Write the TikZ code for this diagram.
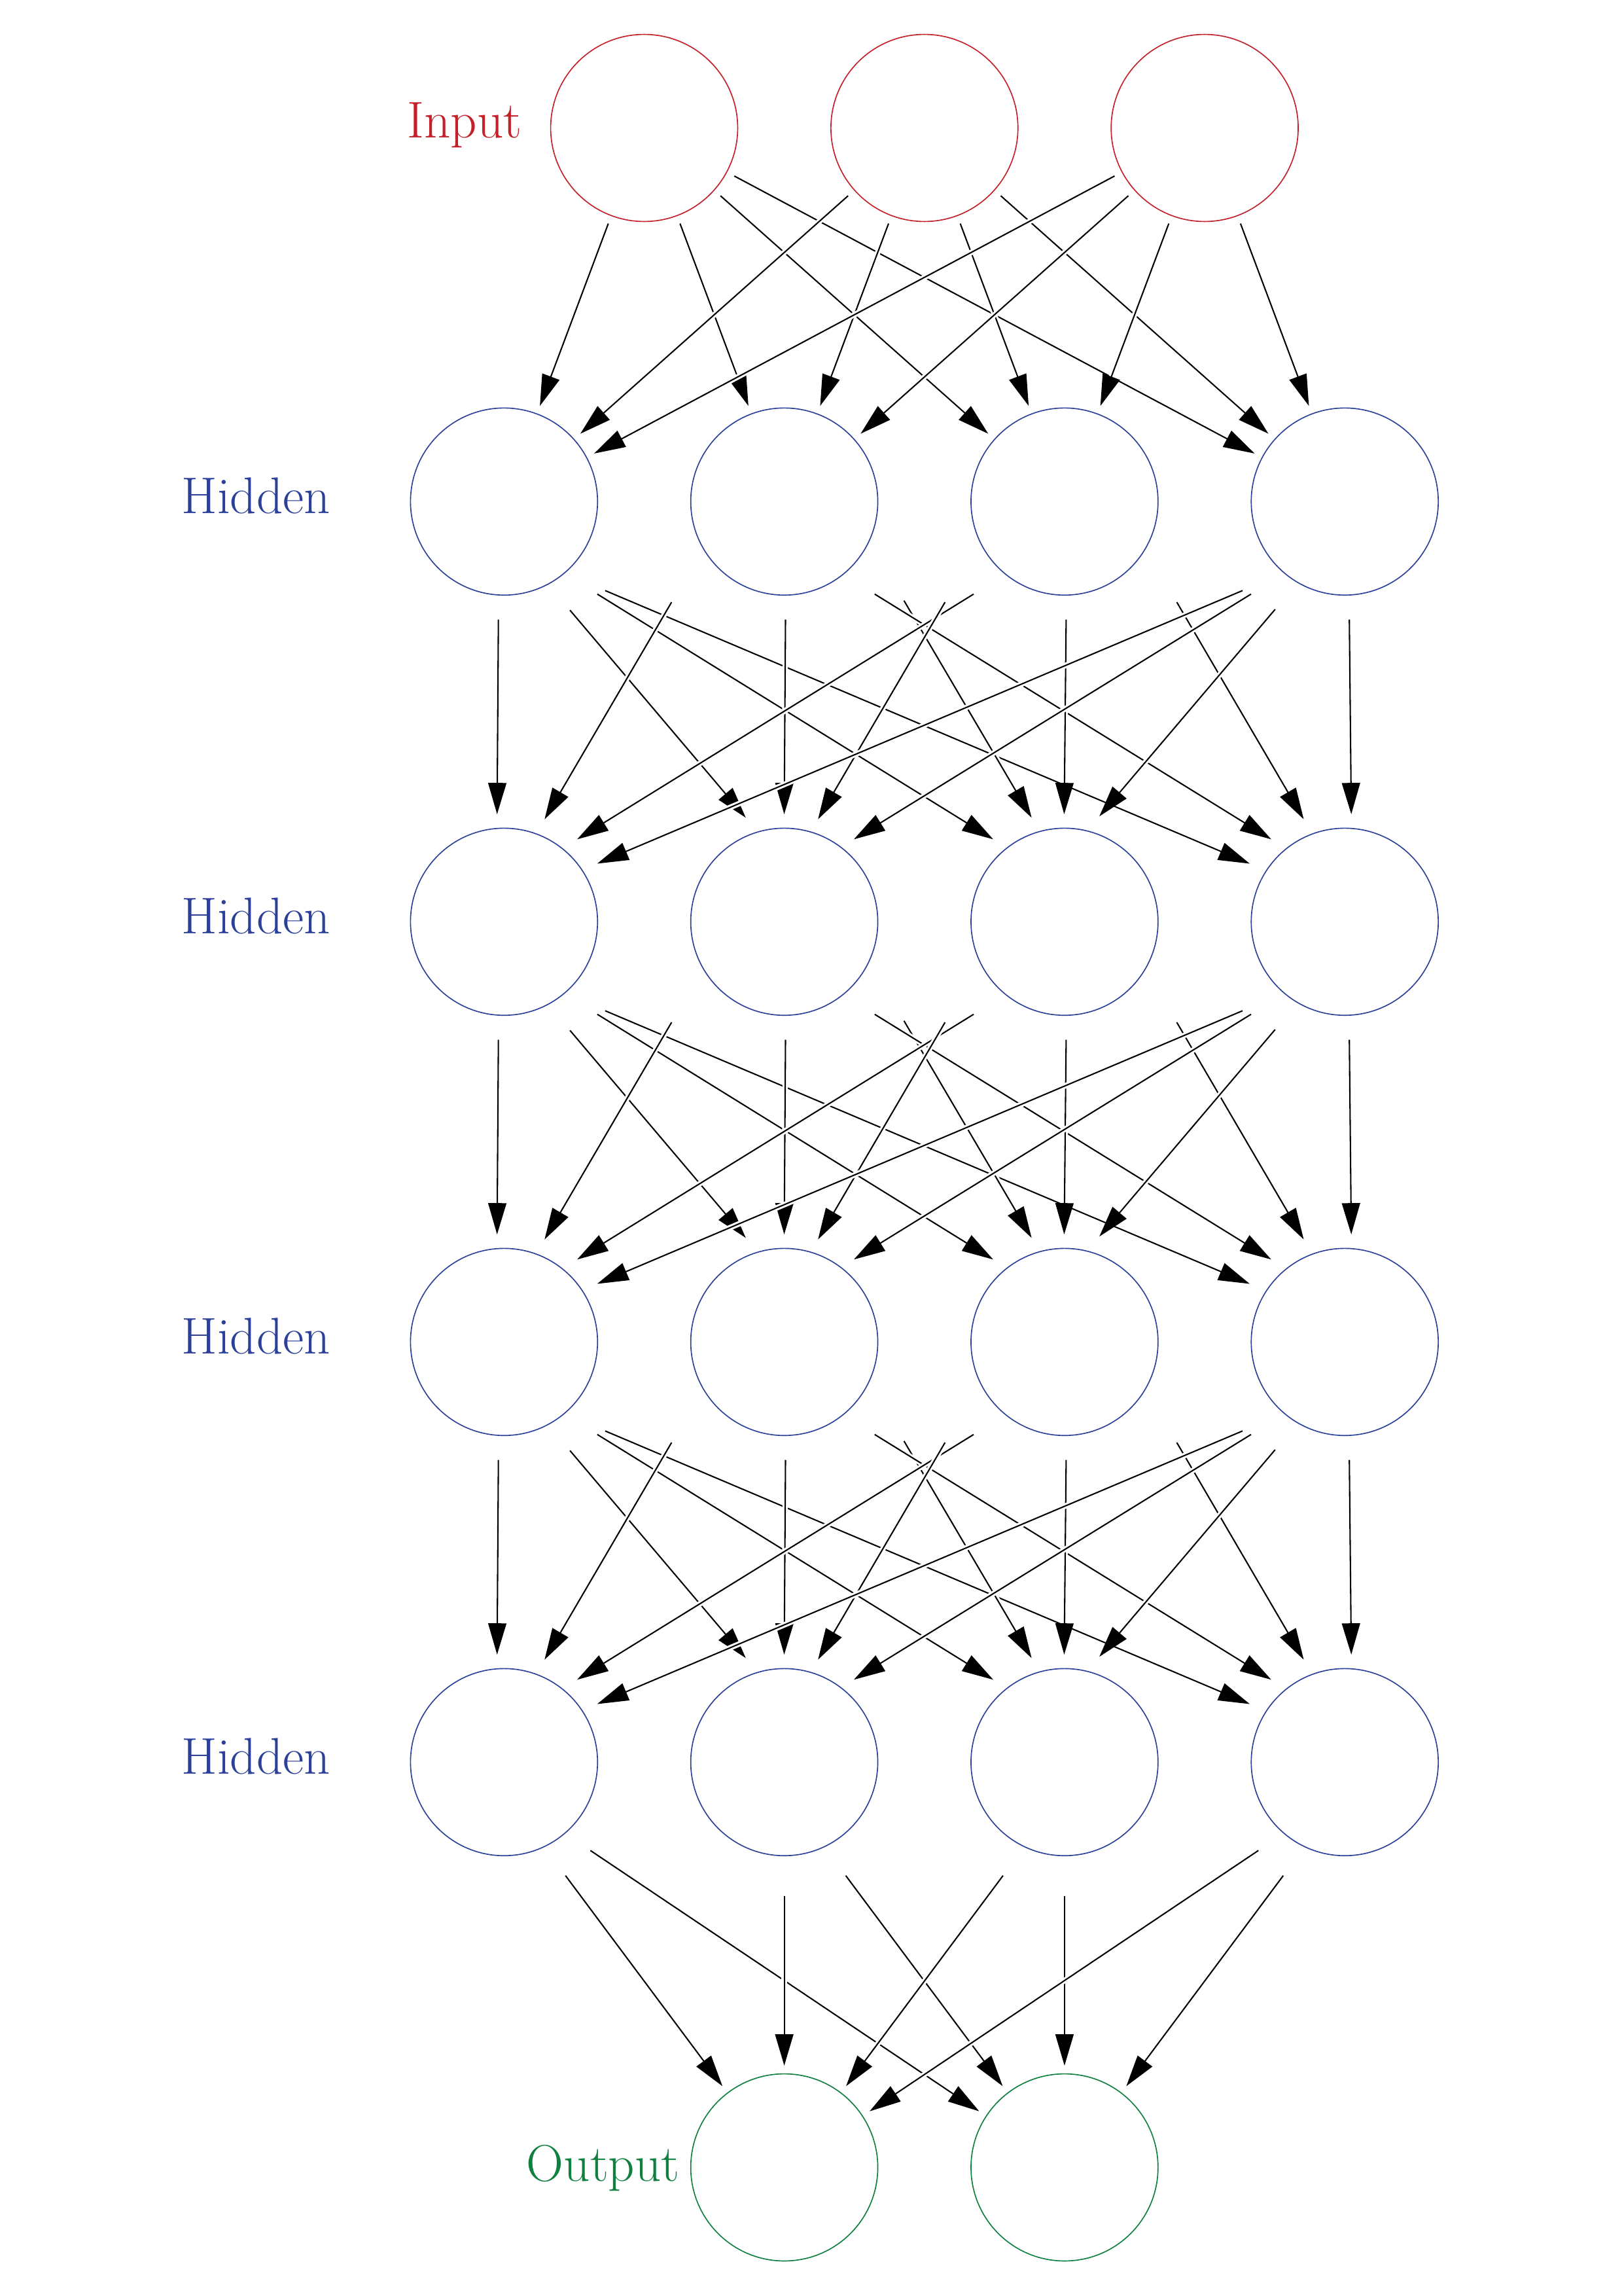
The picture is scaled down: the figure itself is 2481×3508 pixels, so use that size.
\documentclass[tikz,border=0pt]{standalone}
\usetikzlibrary{arrows.meta,calc}
\definecolor{inred}{RGB}{195,32,42}
\definecolor{hidblue}{RGB}{44,64,154}
\definecolor{outgreen}{RGB}{16,128,64}
\begin{document}
\begin{tikzpicture}[x=0.0084643cm, y=-0.0084643cm,
  neuron/.style={circle, minimum size=2.4208cm, inner sep=0pt, draw, line width=0.4pt},
  inneuron/.style={neuron, draw=inred},
  hidneuron/.style={neuron, draw=hidblue},
  outneuron/.style={neuron, draw=outgreen},
  conn/.style={-{Triangle[length=0.405cm,width=0.235cm]}, line width=0.5pt,
    preaction={draw=white, line width=2pt, arrows={-}}},
  inconn/.style={conn, shorten >=0.104cm, shorten <=0.104cm},
  lbl/.style={font=\fontsize{19}{23}\selectfont, anchor=base, inner sep=0pt}]
\useasboundingbox (0,0) rectangle (2481,3508);

% input layer
\foreach \x [count=\i] in {984.5,1412.8,1841.1}
  \node[inneuron] (i\i) at (\x,195.5) {};
\node[lbl, text=inred] (linput) at (710,210) {Input};

% hidden layers
\foreach \y [count=\l] in {766.3,1408.3,2050.3,2692.3} {
  \foreach \x [count=\i] in {770.3,1198.6,1626.9,2055.2}
    \node[hidneuron] (h\l-\i) at (\x,\y) {};
  \node[lbl, text=hidblue] (lhid\l) at (391.2,\y+17.7) {Hidden};
}

% output layer
\foreach \x [count=\i] in {1198.6,1626.9}
  \node[outneuron] (o\i) at (\x,3311.5) {};
\node[lbl, text=outgreen] (loutput) at (921.7,3332) {Output};

% input -> hidden 1
\foreach \i in {1,2,3}
  \foreach \j in {1,2,3,4}
    \draw[inconn] (i\i) -- (h1-\j);

% hidden -> hidden
\foreach \l [count=\m from 2] in {1,2,3}
  \foreach \s/\t/\ax/\ay/\bx/\by in {
      1/1/-8.6/180.4/-10.6/-164.3,
      1/2/100.8/166/-58.8/-159,
      1/3/142.6/141.4/-109/-126,
      1/4/154.6/136/-145.2/-88.8,
      2/1/-172.2/153.7/62/-156.6,
      2/2/1.9/180.4/-0.1/-164.3,
      2/3/183/151.4/-50.3/-159,
      2/4/138.2/141.4/-112.4/-126,
      3/1/-138.9/141.4/111.8/-126,
      3/2/-182.6/153.7/51.6/-156.6,
      3/3/2.5/180.4/-0.5/-164.3,
      3/4/171.6/153.7/-62.7/-156.6,
      4/1/-156.2/136/142.4/-88.8,
      4/2/-143.2/141.4/106.4/-126,
      4/3/-106.4/164.7/53.2/-161,
      4/4/7/180.4/10/-164.3}
    \draw[conn] ($(h\l-\s)+(\ax,\ay)$) -- ($(h\m-\t)+(\bx,\by)$);

% hidden 4 -> output
\foreach \s/\t/\ax/\ay/\bx/\by in {
    1/1/94/173.4/-94.5/-124.2,
    1/2/132/135/-130.5/-85.8,
    2/1/0/205/0/-155.5,
    2/2/94/173.4/-94.5/-124.2,
    3/1/-94/173.4/94.5/-124.2,
    3/2/0/205/0/-155.5,
    4/1/-132/135/130.5/-85.8,
    4/2/-94/173.4/94.5/-124.2}
  \draw[conn] ($(h4-\s)+(\ax,\ay)$) -- ($(o\t)+(\bx,\by)$);
\end{tikzpicture}
\end{document}
